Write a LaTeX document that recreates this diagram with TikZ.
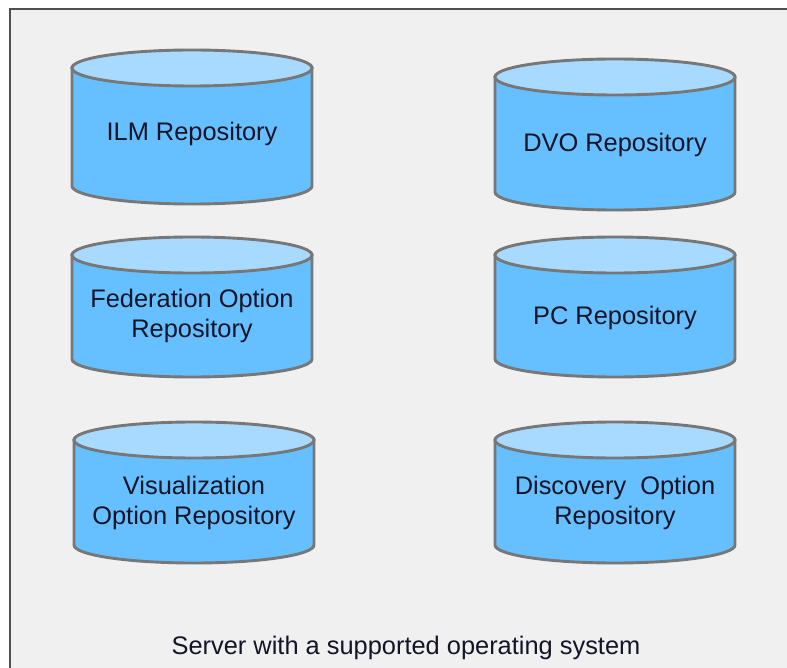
\documentclass[tikz,border=0pt]{standalone}
\usepackage{fontspec}
\setmainfont{Liberation Sans}
\definecolor{srvfill}{HTML}{F0F0F0}
\definecolor{srvline}{HTML}{505050}
\definecolor{dbbody}{HTML}{66BFFF}
\definecolor{dbtop}{HTML}{A8DAFF}
\definecolor{dbline}{HTML}{777777}
\definecolor{dbtext}{HTML}{141428}
\tikzset{
  dbedge/.style={draw=dbline,line width=2.9pt},
  dblabel/.style={align=center,text=dbtext,font=\fontsize{25.4}{30}\selectfont,inner sep=0pt}
}
\begin{document}
\begin{tikzpicture}[x=1pt,y=-1pt]
    \useasboundingbox (0,0) rectangle (787,668);
    \clip (0,0) rectangle (787,668);
    \fill[white] (0,0) rectangle (787,668);
    \draw[fill=srvfill,draw=srvline,line width=2.8pt] (10,9) rectangle (820,700);
    \foreach \nm/\cx/\yt/\yb/\ty/\txt in {
      ilm/192/68/186/134/{ILM Repository},
      dvo/615/77/192/145/{DVO Repository},
      fed/192/255/359/316/{Federation Option\\Repository},
      pc/615/255/359/318/{PC Repository},
      vis/194/440/545/503/{Visualization\\Option Repository},
      disc/615/440/545/503/{Discovery\ \ Option\\Repository}}{
      \draw[dbedge,fill=dbbody] (\cx-120,\yt)--(\cx-120,\yb)
        arc[start angle=180,end angle=360,x radius=120pt,y radius=18pt]--(\cx+120,\yt)--cycle;
      \draw[dbedge,fill=dbtop] (\cx,\yt) ellipse[x radius=120pt,y radius=18pt];
      \node[dblabel] (\nm) at (\cx,\ty) {\txt};
    }
    \node[dblabel] (server) at (406,648) {Server with a supported operating system};
  \end{tikzpicture}
\end{document}
